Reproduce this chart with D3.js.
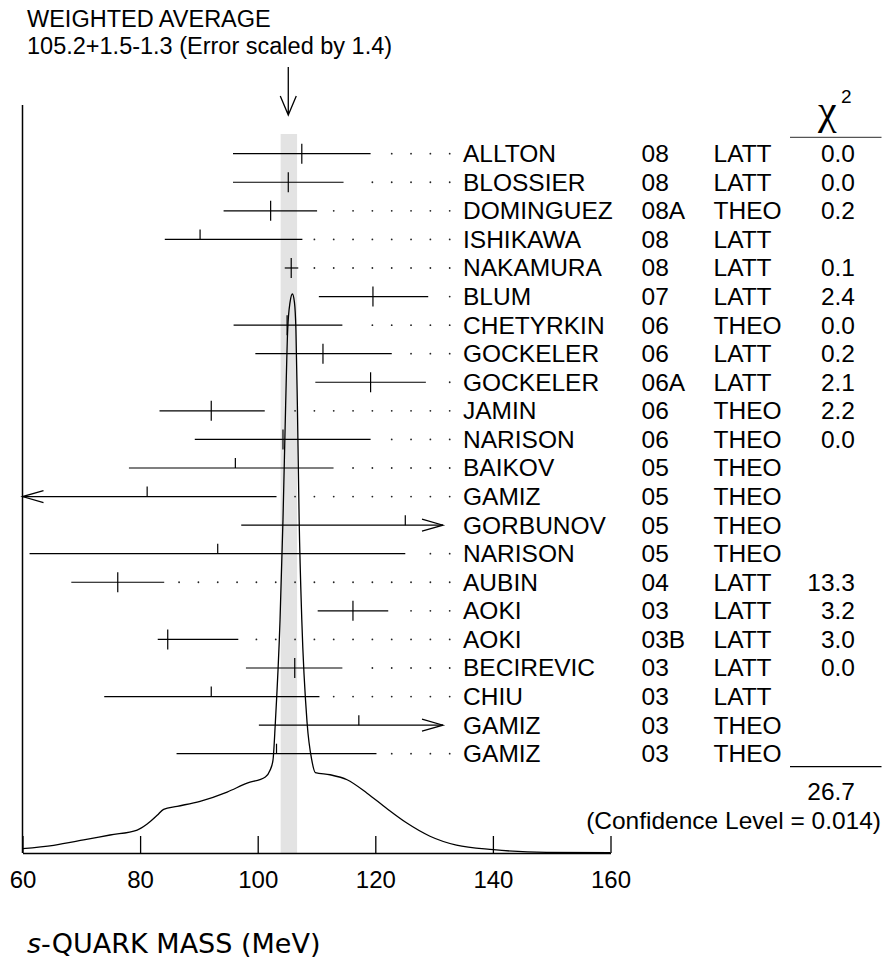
<!DOCTYPE html>
<html>
<head>
<meta charset="utf-8">
<script src="https://cdn.jsdelivr.net/npm/d3@7"></script>
<style>
  body { margin: 0; background: #fff; }
  svg text { font-family: "Liberation Sans", Arial, sans-serif; fill: #000; }
</style>
</head>
<body>
<div id="chart"></div>
<script>
// Measurements (s-quark mass, MeV)
var names = ["ALLTON", "BLOSSIER", "DOMINGUEZ", "ISHIKAWA", "NAKAMURA", "BLUM", "CHETYRKIN",
  "GOCKELER", "GOCKELER", "JAMIN", "NARISON", "BAIKOV", "GAMIZ", "GORBUNOV", "NARISON",
  "AUBIN", "AOKI", "AOKI", "BECIREVIC", "CHIU", "GAMIZ", "GAMIZ"];
var years = ["08", "08", "08A", "08", "08", "07", "06", "06", "06A", "06", "06", "05", "05",
  "05", "05", "04", "03", "03B", "03", "03", "03", "03"];
var methods = ["LATT", "LATT", "THEO", "LATT", "LATT", "LATT", "THEO", "LATT", "LATT", "THEO",
  "THEO", "THEO", "THEO", "THEO", "THEO", "LATT", "LATT", "LATT", "LATT", "LATT", "THEO", "THEO"];
var chi2 = ["0.0", "0.0", "0.2", "", "0.1", "2.4", "0.0", "0.2", "2.1", "2.2", "0.0", "", "", "",
  "", "13.3", "3.2", "3.0", "0.0", "", "", ""];
var central = [107.5, 105.2, 102.2, 90.2, 105.7, 119.6, 105.0, 111.1, 119.2, 92.1, 104.3, 96.2,
  81.2, 125.1, 93.2, 76.2, 116.2, 84.7, 106.3, 92.1, 117.2, 103.2];
var lower = [95.8, 95.8, 94.2, 84.2, 104.6, 110.4, 95.9, 99.6, 109.8, 83.3, 89.3, 78.1,
  59.0, 97.2, 61.2, 68.3, 110.2, 83.0, 98.0, 73.9, 100.2, 86.2];
var upper = [119.2, 114.6, 110.1, 107.6, 106.9, 129.0, 114.4, 122.8, 128.6, 101.2, 119.2, 112.9,
  103.2, 153.0, 125.1, 84.1, 122.2, 96.7, 114.4, 110.5, 134.0, 120.2];

// Ideogram curve (arbitrary units, peak = 100)
var curveMass = [60, 65.3, 70.4, 74.9, 79.5, 81.2, 82.9, 84.0, 86.3, 90.2, 94.8, 98.2, 101.3,
  102.1, 102.6, 103.0, 103.8, 104.3, 104.75, 105.1, 105.5, 105.9, 106.25, 106.5, 106.75, 107.05,
  107.5, 108.4, 109.2, 109.8, 112.3, 115.2, 118.6, 121.9, 125.3, 129.3, 133.8, 140.1, 149.1, 160];
var curveDensity = [0.77, 1.38, 2.33, 3.22, 4.11, 5.19, 6.74, 7.82, 8.35, 9.25, 10.9, 12.5, 13.6,
  14.8, 16.6, 23.3, 41.7, 59.6, 80, 93.6, 98.5, 100, 98.5, 93.6, 80, 59.6, 41.7, 23.3, 16.6, 14.4,
  14.0, 13.1, 10.7, 8.0, 5.4, 3.0, 1.4, 0.6, 0.1, 0.05];

var avgValue = 105.2, avgLow = 103.9, avgHigh = 106.7;
var xTicks = [60, 80, 100, 120, 140, 160];
var chi2Total = "26.7";
var confLevel = "(Confidence Level = 0.014)";

var width = 882, height = 961;
var axisY = 853;
var barRight = 443;   // bars running past this end in an arrow

var svg = d3.select("#chart").append("svg")
    .attr("width", width)
    .attr("height", height);

var x = d3.scaleLinear().domain([60, 160]).range([22.5, 610.5]);
var rowY = d3.scalePoint().domain(d3.range(names.length)).range([153.7, 753.7]);
var yc = d3.scaleLinear().domain([0, 100]).range([axisY, 294]);

// grey band of the weighted average
svg.append("rect")
    .attr("x", x(avgLow))
    .attr("y", 134)
    .attr("width", x(avgHigh) - x(avgLow))
    .attr("height", axisY - 134)
    .attr("fill", "#e3e3e3");

// heading
svg.append("text").attr("x", 27).attr("y", 27).style("font-size", "23.5px").text("WEIGHTED AVERAGE");
svg.append("text").attr("x", 27).attr("y", 53.5).style("font-size", "23.5px")
    .text("105.2+1.5-1.3 (Error scaled by 1.4)");

// arrow pointing at the average
var ax = x(avgValue);
svg.append("path")
    .attr("d", "M" + ax + ",67V115M" + (ax - 8) + ",96L" + ax + ",115L" + (ax + 8) + ",96")
    .attr("fill", "none").attr("stroke", "#000").attr("stroke-width", 1.3);

// left frame line
svg.append("line")
    .attr("x1", x(60)).attr("x2", x(60))
    .attr("y1", 105).attr("y2", axisY)
    .attr("stroke", "#000").attr("stroke-width", 1.5);

// bottom axis
var xAxis = d3.axisBottom(x).tickValues(xTicks).tickSize(-17).tickSizeOuter(0).tickPadding(18);
var gx = svg.append("g")
    .attr("transform", "translate(0," + axisY + ")")
    .call(xAxis);
gx.select(".domain").attr("stroke", "#000").attr("stroke-width", 1.5);
gx.selectAll(".tick line").attr("stroke", "#000").attr("stroke-width", 1.3);
gx.selectAll(".tick text")
    .style("font-family", "'Liberation Sans', Arial, sans-serif")
    .style("font-size", "24px")
    .attr("fill", "#000");

// ideogram curve
var pts = curveMass.map(function(m, i) { return [m, curveDensity[i]]; });
var line = d3.line()
    .x(function(d) { return x(d[0]); })
    .y(function(d) { return yc(d[1]); })
    .curve(d3.curveMonotoneX);
svg.append("path")
    .attr("d", line(pts))
    .attr("fill", "none")
    .attr("stroke", "#000")
    .attr("stroke-width", 1.3);

// measurements
var rows = svg.append("g").selectAll("g")
    .data(names)
    .enter().append("g");

rows.each(function(name, i) {
    var g = d3.select(this);
    var y = rowY(i);
    var x1 = Math.max(x(lower[i]), x(60));
    var x2 = Math.min(x(upper[i]), barRight);
    var leftArrow = x(lower[i]) < x(60);
    var rightArrow = x(upper[i]) > barRight;

    g.append("line")
        .attr("x1", x1).attr("x2", x2).attr("y1", y).attr("y2", y)
        .attr("stroke", "#000").attr("stroke-width", 1.2);

    if (leftArrow) {
        g.append("path")
            .attr("d", "M" + (x1 + 21) + "," + (y - 6) + "L" + x1 + "," + y + "L" + (x1 + 21) + "," + (y + 6))
            .attr("fill", "none").attr("stroke", "#000").attr("stroke-width", 1.2);
    }
    if (rightArrow) {
        g.append("path")
            .attr("d", "M" + (x2 - 21) + "," + (y - 6) + "L" + x2 + "," + y + "L" + (x2 - 21) + "," + (y + 6))
            .attr("fill", "none").attr("stroke", "#000").attr("stroke-width", 1.2);
    }

    // full tick when used in the average, half tick otherwise
    var cx = x(central[i]);
    g.append("line")
        .attr("x1", cx).attr("x2", cx)
        .attr("y1", y - 10).attr("y2", chi2[i] === "" ? y : y + 10)
        .attr("stroke", "#000").attr("stroke-width", 1.2);

    // dotted leader to the label
    var dots = d3.range(0, 25).map(function(k) { return 449.7 - 19.33 * k; })
        .filter(function(d) { return d > x2 + 12 && d > x(60) + 5; });
    g.selectAll("circle").data(dots).enter().append("circle")
        .attr("cx", function(d) { return d; })
        .attr("cy", y)
        .attr("r", 0.9)
        .attr("fill", "#222");

    g.append("text").attr("x", 463).attr("y", y + 8.5).style("font-size", "24.5px").text(name);
    g.append("text").attr("x", 641.5).attr("y", y + 8.5).style("font-size", "24.5px").text(years[i]);
    g.append("text").attr("x", 713.5).attr("y", y + 8.5).style("font-size", "24.5px").text(methods[i]);
    g.append("text").attr("x", 855).attr("y", y + 8.5).attr("text-anchor", "end")
        .style("font-size", "24.5px").text(chi2[i]);
});

// chi-square column header
svg.append("text")
    .attr("x", 818).attr("y", 124)
    .style("font-family", "'Liberation Serif', 'Times New Roman', serif")
    .style("font-size", "42px")
    .text("\u03c7");
svg.append("text").attr("x", 841).attr("y", 103).style("font-size", "19px").text("2");
svg.append("line").attr("x1", 790).attr("x2", 881.5).attr("y1", 137.3).attr("y2", 137.3)
    .attr("stroke", "#555").attr("stroke-width", 1.2);

// total
svg.append("line").attr("x1", 790).attr("x2", 881.5).attr("y1", 766.7).attr("y2", 766.7)
    .attr("stroke", "#000").attr("stroke-width", 1.2);
svg.append("text").attr("x", 855).attr("y", 800).attr("text-anchor", "end")
    .style("font-size", "24.5px").text(chi2Total);
svg.append("text").attr("x", 881).attr("y", 829).attr("text-anchor", "end")
    .style("font-size", "24.5px").text(confLevel);

// x-axis title
var title = svg.append("text")
    .attr("x", 27).attr("y", 953)
    .style("font-family", "'DejaVu Sans', Verdana, sans-serif")
    .style("font-size", "27px");
title.append("tspan").style("font-style", "italic").text("s");
title.append("tspan").text("-QUARK MASS (MeV)");
</script>
</body>
</html>
